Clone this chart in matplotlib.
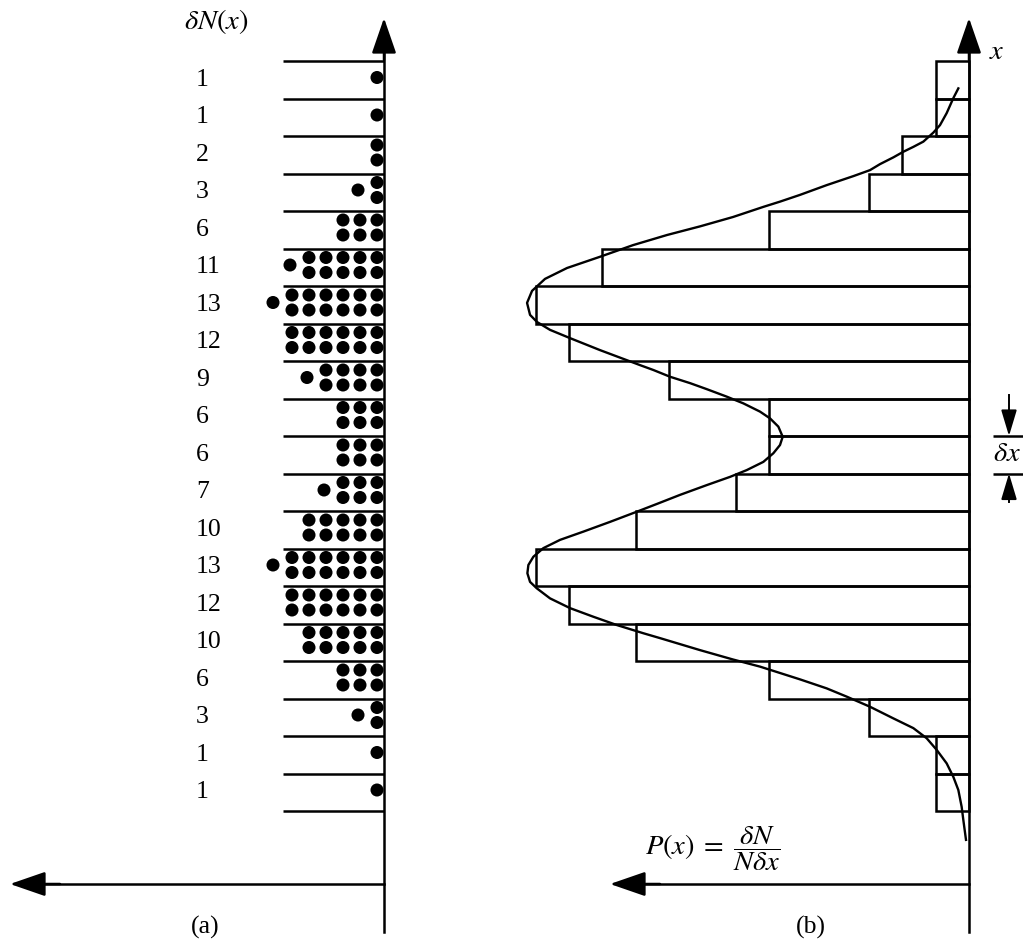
# -*- coding: utf-8 -*-
# histogram of a sample: (a) the points sorted into bins, (b) the normalised
# histogram with the smooth density drawn over it
import numpy as np
import matplotlib.pyplot as plt

plt.rcParams['font.family'] = ['Liberation Serif', 'DejaVu Serif']
plt.rcParams['mathtext.fontset'] = 'stix'

# counts per bin, from the top bin down (as printed in panel a)
counts_top_down = [1, 1, 2, 3, 6, 11, 13, 12, 9, 6, 6, 7, 10, 13, 12, 10, 6, 3, 1, 1]

# smooth curve: position x in bin widths (0 = lowest bin edge)
# and height in counts, from top to bottom
curve_x = [19.27, 19.01, 18.61, 18.29, 18.09, 17.85, 17.71, 17.58, 17.43, 17.25,
           17.09, 16.93, 16.69, 16.43, 16.25, 16.11, 15.84, 15.59, 15.36, 15.09,
           14.78, 14.48, 14.19, 13.87, 13.55, 13.23, 13.04, 12.83, 12.61, 12.29,
           12.09, 11.89, 11.76, 11.58, 11.41, 11.25, 11.05, 10.87, 10.65, 10.47,
           10.25, 9.98, 9.76, 9.54, 9.31, 9.09, 8.91, 8.69, 8.43, 8.20,
           7.98, 7.71, 7.45, 7.23, 7.01, 6.78, 6.56, 6.34, 6.11, 5.94,
           5.67, 5.41, 5.18, 4.96, 4.74, 4.61, 4.29, 4.04, 3.85, 3.51,
           3.27, 3.05, 2.78, 2.47, 2.21, 1.94, 1.63, 1.27, 0.91, 0.56,
           0.11, -0.24, -0.77]
curve_p = [0.32, 0.47, 0.67, 0.87, 1.07, 1.37, 1.67, 1.97, 2.27, 2.67,
           2.97, 3.47, 4.27, 5.07, 5.67, 6.17, 7.08, 8.07, 9.06, 10.08,
           11.07, 12.06, 12.72, 13.11, 13.26, 13.17, 12.96, 12.57, 11.97, 11.07,
           10.47, 9.87, 9.47, 8.97, 8.37, 7.87, 7.27, 6.77, 6.27, 5.97,
           5.72, 5.59, 5.67, 5.87, 6.17, 6.67, 7.17, 7.87, 8.67, 9.33,
           9.97, 10.77, 11.57, 12.27, 12.77, 13.07, 13.22, 13.25, 13.17, 12.97,
           12.57, 11.97, 11.27, 10.57, 9.77, 9.27, 8.07, 7.08, 6.27, 5.07,
           4.27, 3.67, 2.97, 2.27, 1.67, 1.27, 0.97, 0.67, 0.47, 0.32,
           0.22, 0.17, 0.09]

counts = np.array(counts_top_down[::-1])        # bottom bin first
nbins = len(counts)
centers = np.arange(nbins) + 0.5
edges = np.arange(nbins + 1)

# ---- page geometry (pixels) ----
W, H = 1023, 943
BIN_PX = 37.5       # height of one bin
BASE_PX = 811       # pixel row of lowest bin edge
AXA_PX = 384        # vertical axis of panel (a)
AXB_PX = 969        # vertical axis of panel (b)
COUNT_PX = 33.33    # one count in panel (b)
SPLIT_PX = 430


def yv(py):
    return (BASE_PX - py) / BIN_PX


def xa(px):
    return (px - AXA_PX) / BIN_PX


def xb(px):
    return (AXB_PX - px) / COUNT_PX


LW = 1.8
FS = 18.5
FS_MATH = 20.5
arrow_big = dict(arrowstyle='-|>,head_length=1.1,head_width=0.38', mutation_scale=20,
                 lw=LW, color='k', shrinkA=0, shrinkB=0)
arrow_small = dict(arrowstyle='-|>,head_length=1.0,head_width=0.3', mutation_scale=16,
                   lw=1.4, color='k', shrinkA=0, shrinkB=0)

fig = plt.figure(figsize=(W / 100, H / 100), dpi=100)

ax_a = fig.add_axes([0, 0, SPLIT_PX / W, 1])
ax_a.set_xlim(xa(0), xa(SPLIT_PX))
ax_a.set_ylim(yv(H), yv(0))
ax_a.axis('off')

ax_b = fig.add_axes([SPLIT_PX / W, 0, 1 - SPLIT_PX / W, 1])
ax_b.set_xlim(xb(SPLIT_PX), xb(W))
ax_b.set_ylim(yv(H), yv(0))
ax_b.axis('off')

# ---------------- panel (a) ----------------
ax_a.hlines(edges, xa(283), 0, color='k', lw=LW)
ax_a.plot([0, 0], [yv(932), yv(40)], color='k', lw=LW)
ax_a.annotate('', xy=(0, yv(18)), xytext=(0, yv(60)), arrowprops=arrow_big)
ax_a.plot([0, xa(40)], [yv(884), yv(884)], color='k', lw=LW)
ax_a.annotate('', xy=(xa(10), yv(884)), xytext=(xa(60), yv(884)), arrowprops=arrow_big)

# dots: columns of two packed against the axis, an odd one left over sits centred
step = 17 / BIN_PX
half_gap = 7.5 / BIN_PX
right = xa(377)
dx, dy = [], []
for c, n in zip(centers, counts):
    yc = c + 0.06
    for col in range(n // 2):
        dx += [right - col * step] * 2
        dy += [yc + half_gap, yc - half_gap]
    if n % 2:
        dx.append(right - (n // 2) * step - (2 if n > 1 else 0) / BIN_PX)
        dy.append(yc)
ax_a.scatter(dx, dy, s=88, color='k', edgecolors='none', zorder=3)

for c, n in zip(centers, counts):
    ax_a.text(xa(196), c, str(n), fontsize=FS, ha='left', va='center')

ax_a.text(xa(216), yv(22), r'$\delta N(x)$', fontsize=FS_MATH, ha='center', va='center')
ax_a.text(xa(205), yv(927), '(a)', fontsize=FS, ha='center', va='center')

# ---------------- panel (b) ----------------
ax_b.barh(centers, counts, height=1.0, left=0, fill=False, edgecolor='k', lw=LW)
ax_b.plot(curve_p, curve_x, color='k', lw=1.7)

ax_b.plot([0, 0], [yv(932), yv(40)], color='k', lw=LW)
ax_b.annotate('', xy=(0, yv(18)), xytext=(0, yv(60)), arrowprops=arrow_big)
ax_b.plot([0, xb(640)], [yv(884), yv(884)], color='k', lw=LW)
ax_b.annotate('', xy=(xb(610), yv(884)), xytext=(xb(660), yv(884)), arrowprops=arrow_big)

# bin width marker
k = 9
ax_b.hlines([edges[k], edges[k + 1]], xb(993), xb(1023), color='k', lw=LW)
ax_b.plot([xb(1009)] * 2, [yv(395), edges[k + 1] + 0.4], color='k', lw=1.4)
ax_b.annotate('', xy=(xb(1009), edges[k + 1]), xytext=(xb(1009), edges[k + 1] + 0.6),
              arrowprops=arrow_small)
ax_b.plot([xb(1009)] * 2, [yv(502), edges[k] - 0.4], color='k', lw=1.4)
ax_b.annotate('', xy=(xb(1009), edges[k]), xytext=(xb(1009), edges[k] - 0.6),
              arrowprops=arrow_small)
ax_b.text(xb(1007), centers[k], r'$\delta x$', fontsize=FS_MATH, ha='center', va='center')

ax_b.text(xb(997), yv(52), r'$x$', fontsize=FS_MATH, ha='center', va='center')
ax_b.text(xb(713), yv(849), r'$P(x)\;=\;\dfrac{\delta N}{N\delta x}$', fontsize=FS_MATH,
          ha='center', va='center')
ax_b.text(xb(811), yv(927), '(b)', fontsize=FS, ha='center', va='center')

fig.savefig('out.png', dpi=100)
